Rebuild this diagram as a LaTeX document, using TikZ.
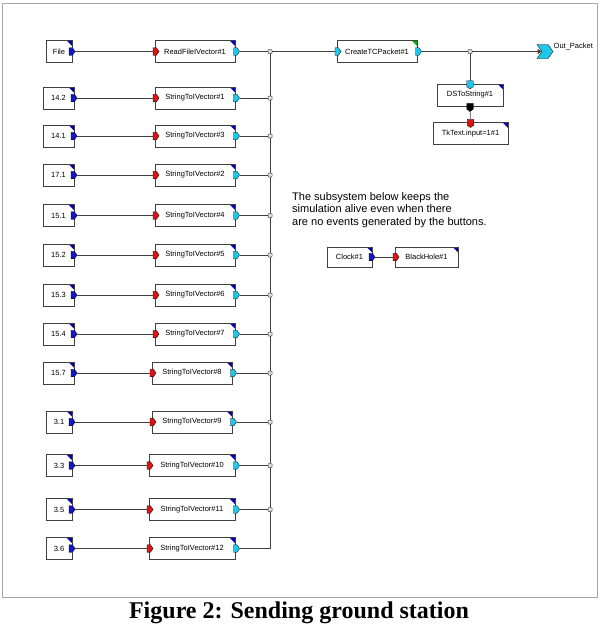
\documentclass[tikz,border=0pt]{standalone}
\usepackage{fontspec}
\setmainfont{Liberation Sans}
\newfontfamily\captionfont{Liberation Serif}
\usetikzlibrary{shapes.symbols}
\usetikzlibrary{shadows}
\usetikzlibrary{arrows.meta}
\definecolor{portcyan}{RGB}{30,200,235}
\definecolor{portred}{RGB}{220,20,20}
\definecolor{portblue}{RGB}{20,20,200}

\begin{document}
\begin{tikzpicture}[x=1pt,y=-1pt,corner/.store in=\cornercol,corner=blue!70!black]
\useasboundingbox (0,0) rectangle (600,629);
\tikzstyle{wire}=[draw=black!75,line width=0.6pt]
\tikzstyle{jn}=[rectangle,rounded corners=0.8pt,draw=gray!60!black,fill=gray!25,line width=0.5pt,minimum size=4,inner sep=0pt]
\tikzset{block/.style={draw=gray!50!black,fill=white,line width=0.5pt,minimum width=#1,minimum height=22,
inner sep=1pt,font=\fontsize{7.5}{8.5}\selectfont,
general shadow={shadow xshift=0.9pt,shadow yshift=-0.9pt,fill=gray!70},
path picture={\fill[\cornercol] (path picture bounding box.north east) -- ++(-5.5pt,0pt) -- ++(5.5pt,-5.5pt) -- cycle;}},
block/.default=80}
\tikzset{port/.style={shape=signal,signal to=east,signal pointer angle=110,draw=black,line width=0.3pt,
fill=#1,minimum width=6,minimum height=7.5,inner sep=0pt},
inport/.style={port=portred},outport/.style={port=portcyan},srcport/.style={port=portblue}}
% frame
\draw[gray!70,line width=1.2pt] (2.5,3.5) rectangle (597.5,597.5);
% file reader
\node [block=26] (file) at (59,51.5) {File};
\node [srcport] (file-out) at ([xshift=-1.5pt]file.east) {};
\node [block] (read) at (195,51.5) {ReadFileIVector\#1};
\node [inport] (read-in) at (read.west) {};
\node [outport] (read-out) at (read.east) {};
\node [jn] (bus0) at (270,51.5) {};
\draw [wire] (file-out) -- (read-in);
\draw [wire] (read-out) -- (bus0);
% string sources
\foreach \y/\src/\n/\sx/\sw/\vx/\vw [count=\i] in {98/14.2/1/58.5/31/195/80,136/14.1/3/58.5/31/195/80,
175/17.1/2/58.5/31/195/80,215.5/15.1/4/58.5/31/195/80,255/15.2/5/58.5/31/195/80,295/15.3/6/58.5/31/195/80,
334/15.4/7/58.5/31/195/80,373/15.7/8/58.5/31/192/80,422/3.1/9/59/26/192/80,465.5/3.3/10/59/26/192/86,
509.5/3.5/11/59/26/192/86,548.5/3.6/12/59/26/192/86}
{
\node [block=\sw] (src\i) at (\sx,\y) {\src};
\node [srcport] (src\i-out) at ([xshift=-1.5pt]src\i.east) {};
\node [block=\vw] (vec\i) at (\vx,\y) {StringToIVector\#\n};
\node [inport] (vec\i-in) at (vec\i.west) {};
\node [outport] (vec\i-out) at (vec\i.east) {};
\draw [wire] (src\i-out) -- (vec\i-in);
\ifnum\i<12 \node [jn] (bus\i) at (270,\y) {}; \fi
}
\foreach \i [count=\j from 0] in {1,...,11}
{
\draw [wire] (bus\j) -- (bus\i);
\draw [wire] (vec\i-out) -- (bus\i);
}
\draw [wire] (vec12-out) -| (bus11);
% packet creation
\node [block,corner=green!70!black] (tcp) at (377,51.5) {CreateTCPacket\#1};
\node [outport] (tcp-in) at (tcp.west) {};
\node [outport] (tcp-out) at (tcp.east) {};
\node [jn] (split) at (470,51.5) {};
\node [port=portcyan,signal from=west,minimum width=16,minimum height=14] (pkt) at (545,51.5) {};
\node [anchor=west,font=\fontsize{7.5}{8.5}\selectfont,inner sep=1pt] (pkt-label) at (552.5,47) {Out\_Packet};
\draw [wire] (bus0) -- (tcp-in);
\draw [wire] (tcp-out) -- (split);
\draw [wire,-{Triangle[length=4pt,width=5pt]}] (split) -- (pkt);
\node [block=66] (ds) at (470,95) {DSToString\#1};
\node [port=portcyan,signal to=south,minimum width=6.5,minimum height=6] (ds-in) at (ds.north) {};
\node [port=black,signal to=south,minimum width=6.5,minimum height=6] (ds-out) at (ds.south) {};
\node [block=75] (tk) at (470.5,133.5) {TkText.input=1\#1};
\node [port=portred,signal to=south,minimum width=6.5,minimum height=6] (tk-in) at (tk.north) {};
\draw [wire] (split) -- (ds-in);
\draw [wire] (ds-out) -- (tk-in);
% keep alive
\node [anchor=north west,align=left,inner sep=0pt,font=\fontsize{11}{12.5}\selectfont] (note) at (292,192) {The subsystem below keeps the\\simulation alive even when there\\are no events generated by the buttons.};
\node [block=45,minimum height=20] (clock) at (349.5,257) {Clock\#1};
\node [srcport] (clock-out) at ([xshift=-1.5pt]clock.east) {};
\node [block=63,minimum height=20] (hole) at (426.5,257) {BlackHole\#1};
\node [inport] (hole-in) at (hole.west) {};
\draw [wire] (clock-out) -- (hole-in);
% caption
\node [font=\captionfont\bfseries\fontsize{24}{28}\selectfont] (caption) at (299,613) {Figure 2: Sending ground station};
\end{tikzpicture}
\end{document}
